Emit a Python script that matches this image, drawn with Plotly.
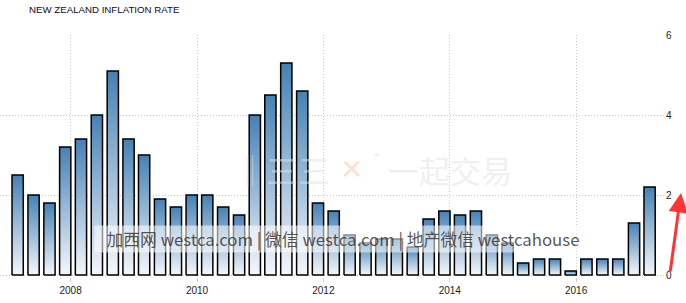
import plotly.graph_objects as go
import pandas as pd

title_text = "NEW ZEALAND INFLATION RATE"
quarters = pd.date_range("2007-03-01", periods=41, freq="3MS")
inflation = [2.5, 2.0, 1.8, 3.2,
             3.4, 4.0, 5.1, 3.4,
             3.0, 1.9, 1.7, 2.0,
             2.0, 1.7, 1.5, 4.0,
             4.5, 5.3, 4.6, 1.8,
             1.6, 1.0, 0.8, 0.9,
             0.9, 0.7, 1.4, 1.6,
             1.5, 1.6, 1.0, 0.8,
             0.3, 0.4, 0.4, 0.1,
             0.4, 0.4, 0.4, 1.3,
             2.2]
y_ticks = [0, 2, 4, 6]
watermark = "加西网 westca.com | 微信 westca.com | 地产微信 westcahouse"

half = pd.Timedelta(days=32.5)
fig = go.Figure()
for d, v in zip(quarters, inflation):
    xs = [d - half, d - half, d + half, d + half, d - half]
    ys = [0, v, v, 0, 0]
    fig.add_trace(go.Scatter(
        x=xs, y=ys, mode="lines", fill="toself",
        line=dict(color="black", width=1.5),
        fillgradient=dict(type="vertical",
                          colorscale=[[0, "#f4f7fb"], [1, "#4581b5"]]),
        hoverinfo="skip", showlegend=False))

W, H = 686, 303
ml, mr, mt, mb = 0, 21, 35, 26
pw = W - ml - mr
grid = dict(showgrid=True, gridcolor="#c8c8c8", griddash="1px,2px", gridwidth=1)

fig.update_layout(
    width=W, height=H,
    margin=dict(l=ml, r=mr, t=mt, b=mb),
    paper_bgcolor="white", plot_bgcolor="white",
    showlegend=False,
    title=dict(text=title_text, x=29 / W, xref="container", xanchor="left",
               y=1 - 10 / H, yref="container", yanchor="middle",
               font=dict(family="Liberation Sans", size=9.7, color="#0a0a2a")),
    xaxis=dict(type="date", range=["2006-11-19", "2017-05-29"],
               tick0="2008-01-01", dtick="M24", tickformat="%Y",
               ticks="outside", ticklen=4, tickcolor="#cccccc",
               tickfont=dict(family="Liberation Sans", size=10, color="#222222"),
               zeroline=False, showline=False, fixedrange=True, **grid),
    yaxis=dict(side="right", range=[-0.05, 6], tickvals=y_ticks,
               ticks="", zeroline=False, showline=False,
               tickfont=dict(family="Liberation Sans", size=10, color="#222222"),
               **grid),
)

# faint logo watermark
logo_y = 2.65
fig.add_annotation(xref="paper", yref="y", x=282 / pw, y=logo_y, text="‖三三",
                   xanchor="center", yanchor="middle", showarrow=False,
                   font=dict(family="Noto Sans CJK SC", size=32,
                             color="rgba(225,225,225,0.5)"))
fig.add_annotation(xref="paper", yref="y", x=351 / pw, y=logo_y, text="✕",
                   xanchor="center", yanchor="middle", showarrow=False,
                   font=dict(family="DejaVu Sans", size=28,
                             color="rgba(255,170,130,0.4)"))
fig.add_annotation(xref="paper", yref="y", x=376 / pw, y=2.95, text="™",
                   xanchor="center", yanchor="middle", showarrow=False,
                   font=dict(family="DejaVu Sans", size=7,
                             color="rgba(200,200,200,0.6)"))
fig.add_annotation(xref="paper", yref="y", x=450 / pw, y=logo_y, text="一起交易",
                   xanchor="center", yanchor="middle", showarrow=False,
                   font=dict(family="Noto Sans CJK SC", size=31,
                             color="rgba(225,225,225,0.5)"))

# text watermark with translucent band
fig.add_annotation(xref="paper", yref="y", x=343 / pw, y=0.89, text=watermark,
                   xanchor="center", yanchor="middle",
                   showarrow=False, width=494, height=24,
                   bgcolor="rgba(255,255,255,0.55)",
                   font=dict(family="Noto Sans CJK SC", size=16.8,
                             color="rgba(55,55,55,0.85)"))

# red arrow
fig.add_annotation(xref="paper", yref="y", x=681 / pw, y=2.05, ax=-11, ay=80,
                   text="", showarrow=True, arrowhead=2, arrowsize=1.3,
                   arrowwidth=3, arrowcolor="#ff3333")

fig.write_html("out.html")
